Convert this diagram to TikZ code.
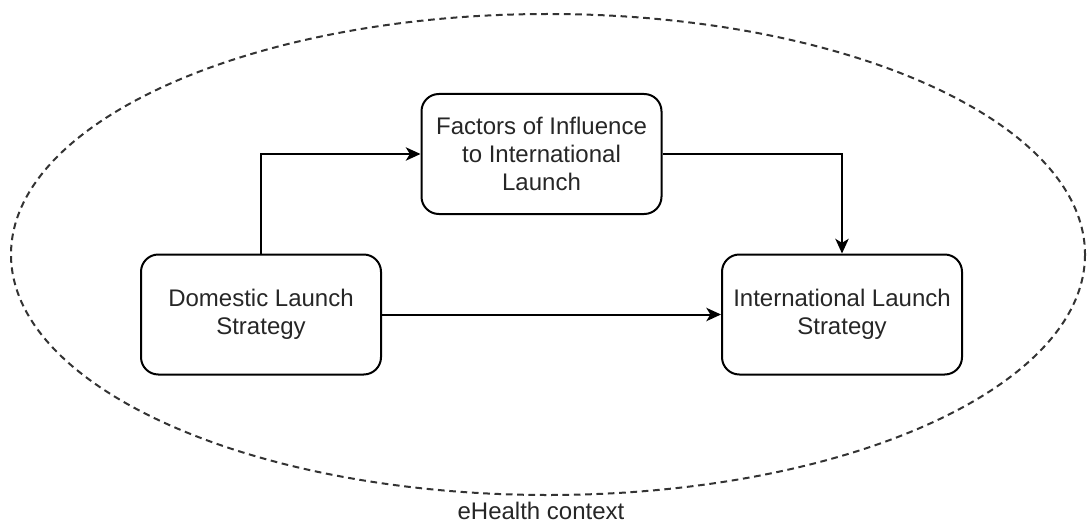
\documentclass[tikz,border=0pt]{standalone}
\usepackage{fontspec}
\setmainfont{Liberation Sans}
\usetikzlibrary{arrows.meta}
\definecolor{txt}{HTML}{262626}
\tikzset{
  block/.style={draw=black, line width=1.5pt, rounded corners=13pt,
    minimum width=180pt, minimum height=90pt, inner sep=0pt,
    align=center, text=txt, font=\fontsize{18pt}{21pt}\selectfont},
  link/.style={draw=black, line width=1.5pt,
    -{Stealth[length=11pt,width=10pt,inset=3pt]}},
  context/.style={draw=black!80, line width=1.5pt, dash pattern=on 5pt off 3.5pt}
}
\begin{document}
\begin{tikzpicture}[x=0.75pt,y=-0.75pt]
  \useasboundingbox (0,0) rectangle (1087,524);
  % surrounding context
  \draw[context] (548,254.5) ellipse [x radius=537, y radius=240.5];
  \node[text=txt, font=\fontsize{18pt}{21pt}\selectfont, anchor=center] (ctx) at (541,511) {eHealth context};

  % strategy blocks
  \node[block] (fac) at (541.5,154) {Factors of Influence\\to International\\Launch};
  \node[block] (dom) at (261,314.5) {Domestic Launch\\Strategy};
  \node[block] (int) at (842,314.5) {International Launch\\Strategy};

  % connectors
  \draw[link] (dom.north) |- (fac.west);
  \draw[link] (fac.east) -| (int.north);
  \draw[link] (dom.east) -- (int.west);
\end{tikzpicture}
\end{document}
